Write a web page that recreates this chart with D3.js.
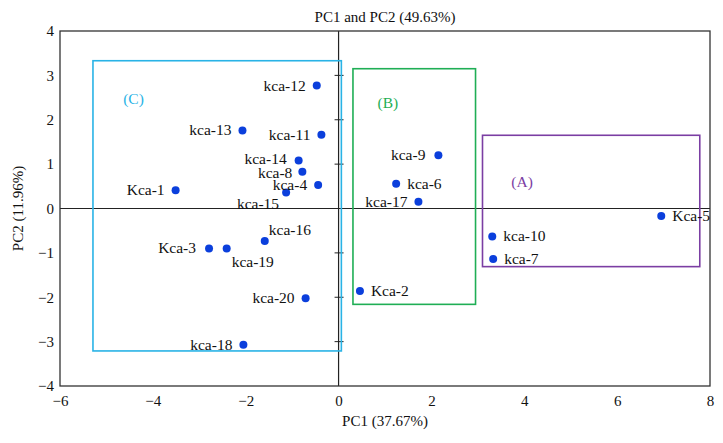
<!DOCTYPE html>
<html>
<head>
<meta charset="utf-8">
<script src="https://cdn.jsdelivr.net/npm/d3@7"></script>
<style>
  body { margin: 0; background: #fff; }
  text { font-family: "Liberation Serif", "DejaVu Serif", serif; fill: #111; }
</style>
</head>
<body>
<div id="chart"></div>
<script>
// PCA scores
var names = ["Kca-1", "Kca-2", "Kca-3", "kca-4", "Kca-5", "kca-6", "kca-7", "kca-8", "kca-9", "kca-10",
             "kca-11", "kca-12", "kca-13", "kca-14", "kca-15", "kca-16", "kca-17", "kca-18", "kca-19", "kca-20"];
var pc1 = [-3.51, 0.46, -2.79, -0.44, 6.95, 1.24, 3.33, -0.78, 2.15, 3.31,
           -0.37, -0.47, -2.07, -0.86, -1.13, -1.59, 1.72, -2.05, -2.41, -0.71];
var pc2 = [0.41, -1.86, -0.90, 0.53, -0.17, 0.56, -1.14, 0.83, 1.20, -0.63,
           1.66, 2.77, 1.76, 1.08, 0.36, -0.73, 0.15, -3.07, -0.90, -2.02];

// cluster boxes (in PC units) and their labels
var groupNames = ["(A)", "(B)", "(C)"];
var groupX0 = [3.10, 0.31, -5.29];
var groupX1 = [7.78, 2.95, 0.06];
var groupY0 = [-1.31, -2.16, -3.21];
var groupY1 = [1.65, 3.15, 3.33];
var groupLabelX = [3.72, 0.84, -4.64];
var groupLabelY = [0.48, 2.27, 2.35];

var xTicks = [-6, -4, -2, 0, 2, 4, 6, 8];
var yTicks = [-4, -3, -2, -1, 0, 1, 2, 3, 4];

var svgWidth = 723;
var svgHeight = 443;
var margin = { top: 31, right: 13, bottom: 57, left: 60 };
var width = svgWidth - margin.left - margin.right;
var height = svgHeight - margin.top - margin.bottom;

var svg = d3.select("#chart")
  .append("svg")
  .attr("width", svgWidth)
  .attr("height", svgHeight);

var chartGroup = svg.append("g")
  .attr("transform", `translate(${margin.left}, ${margin.top})`);

var xScale = d3.scaleLinear().domain([-6, 8]).range([0, width]);
var yScale = d3.scaleLinear().domain([-4, 4]).range([height, 0]);

// tick labels on the outer frame
var bottomAxis = d3.axisBottom(xScale).tickValues(xTicks).tickSize(0).tickPadding(9);
var leftAxis = d3.axisLeft(yScale).tickValues(yTicks).tickSize(0).tickPadding(6);

var gx = chartGroup.append("g")
  .attr("transform", `translate(0, ${height})`)
  .call(bottomAxis);
var gy = chartGroup.append("g").call(leftAxis);
[gx, gy].forEach(function(g) {
  g.select(".domain").remove();
  g.selectAll("text")
    .style("font-family", "'Liberation Serif', serif")
    .style("font-size", "15px")
    .attr("fill", "#111");
});

// zero lines
chartGroup.append("line")
  .attr("x1", xScale(0)).attr("x2", xScale(0))
  .attr("y1", 0).attr("y2", height)
  .attr("stroke", "#222").attr("stroke-width", 1.2);
chartGroup.append("line")
  .attr("x1", 0).attr("x2", width)
  .attr("y1", yScale(0)).attr("y2", yScale(0))
  .attr("stroke", "#222").attr("stroke-width", 1.2);

// little ticks crossing the vertical zero line
chartGroup.selectAll(".ztick")
  .data(yTicks.filter(d => d !== 0 && d !== 4 && d !== -4))
  .enter()
  .append("line")
  .attr("class", "ztick")
  .attr("x1", xScale(0) - 4).attr("x2", xScale(0) + 5)
  .attr("y1", d => yScale(d)).attr("y2", d => yScale(d))
  .attr("stroke", "#222").attr("stroke-width", 1);

// cluster boxes
var groupColors = ["#7b3ea3", "#1fae55", "#29b3e6"];
var groups = groupNames.map(function(n, i) {
  return { name: n, x0: groupX0[i], x1: groupX1[i], y0: groupY0[i], y1: groupY1[i],
           lx: groupLabelX[i], ly: groupLabelY[i], color: groupColors[i] };
});

chartGroup.selectAll(".box")
  .data(groups)
  .enter()
  .append("rect")
  .attr("class", "box")
  .attr("x", d => xScale(d.x0))
  .attr("y", d => yScale(d.y1))
  .attr("width", d => xScale(d.x1) - xScale(d.x0))
  .attr("height", d => yScale(d.y0) - yScale(d.y1))
  .attr("fill", "none")
  .attr("stroke", d => d.color)
  .attr("stroke-width", 1.6);

chartGroup.selectAll(".glabel")
  .data(groups)
  .enter()
  .append("text")
  .attr("class", "glabel")
  .attr("x", d => xScale(d.lx))
  .attr("y", d => yScale(d.ly))
  .style("fill", d => d.color)
  .style("font-size", "15.5px")
  .text(d => d.name);

// outer frame
chartGroup.append("rect")
  .attr("width", width)
  .attr("height", height)
  .attr("fill", "none")
  .attr("stroke", "#333")
  .attr("stroke-width", 1.3);

// points
var points = names.map(function(n, i) {
  return { name: n, x: pc1[i], y: pc2[i] };
});

chartGroup.selectAll(".dot")
  .data(points)
  .enter()
  .append("circle")
  .attr("class", "dot")
  .attr("cx", d => xScale(d.x))
  .attr("cy", d => yScale(d.y))
  .attr("r", 4)
  .attr("fill", "#0b3fdc");

// where each sample label sits relative to its dot
var right = ["Kca-2", "Kca-5", "kca-6", "kca-7", "kca-10"];
var special = {
  "kca-15": { dx: -7, dy: 16, anchor: "end" },
  "kca-16": { dx: 4, dy: -6, anchor: "start" },
  "kca-19": { dx: 5, dy: 19, anchor: "start" },
  "kca-14": { dx: -12, dy: 3, anchor: "end" },
  "kca-8": { dx: -10, dy: 6, anchor: "end" },
  "kca-9": { dx: -13, dy: 5, anchor: "end" },
  "Kca-3": { dx: -13, dy: 5, anchor: "end" }
};
function place(d) {
  if (special[d.name]) return special[d.name];
  if (right.indexOf(d.name) >= 0) return { dx: 11, dy: 5, anchor: "start" };
  return { dx: -11, dy: 5, anchor: "end" };
}

chartGroup.selectAll(".plabel")
  .data(points)
  .enter()
  .append("text")
  .attr("class", "plabel")
  .attr("x", d => xScale(d.x) + place(d).dx)
  .attr("y", d => yScale(d.y) + place(d).dy)
  .attr("text-anchor", d => place(d).anchor)
  .style("font-size", "15.5px")
  .text(d => d.name);

// titles
svg.append("text")
  .attr("x", margin.left + width / 2)
  .attr("y", 22)
  .attr("text-anchor", "middle")
  .style("font-size", "15px")
  .text("PC1 and PC2 (49.63%)");

svg.append("text")
  .attr("x", margin.left + width / 2)
  .attr("y", 426)
  .attr("text-anchor", "middle")
  .style("font-size", "15px")
  .text("PC1 (37.67%)");

svg.append("text")
  .attr("transform", `translate(23, ${margin.top + yScale(0)}) rotate(-90)`)
  .attr("text-anchor", "middle")
  .style("font-size", "15px")
  .text("PC2 (11.96%)");
</script>
</body>
</html>
